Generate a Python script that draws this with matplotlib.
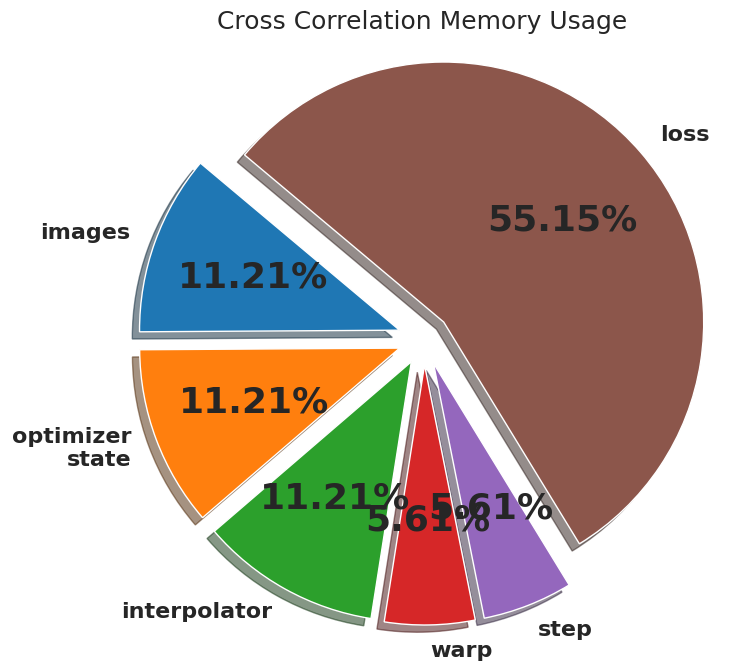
import matplotlib
matplotlib.use("Agg")
import matplotlib.pyplot as plt
import seaborn as sns

sns.set_theme(palette="tab10")

labels = ["images", "optimizer\nstate", "interpolator", "warp", "step", "loss"]
usage = [11.21, 11.21, 11.21, 5.61, 5.61, 55.15]
explode = [0.1] * len(usage)
colors = sns.color_palette("tab10", len(usage))

fig = plt.figure(figsize=(7.41, 6.72), dpi=100)
ax = fig.add_axes([99 / 741, 8 / 672, 650 / 741, 650 / 672])

wedges, texts, autotexts = ax.pie(
    usage,
    labels=labels,
    explode=explode,
    colors=colors,
    autopct="%1.2f%%",
    shadow=True,
    startangle=140,
    textprops={"fontsize": 16, "fontweight": "bold"},
)
for t in autotexts:
    t.set_fontsize(26)

ax.set_xlim(-1.25, 1.25)
ax.set_ylim(-1.25, 1.25)
ax.set_aspect("equal")

fig.suptitle("Cross Correlation Memory Usage", fontsize=18, x=422 / 741, y=0.985)

fig.savefig("out.png", dpi=100)
